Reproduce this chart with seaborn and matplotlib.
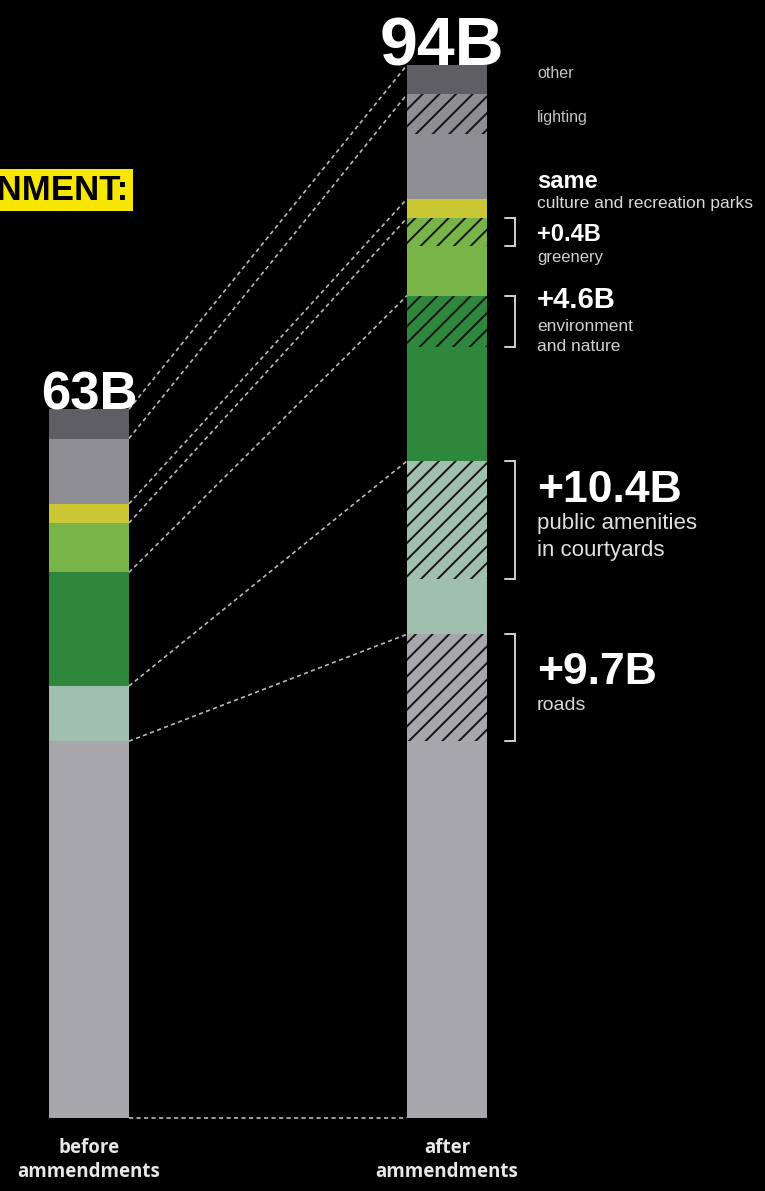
import matplotlib
matplotlib.use("Agg")
import matplotlib.pyplot as plt
from matplotlib.patches import Rectangle
import seaborn as sns
import pandas as pd
import numpy as np

# budget per category, billions, bottom -> top of each bar
categories = ["roads", "public amenities", "environment", "greenery",
              "culture", "lighting", "other"]
before_values = [33.5, 4.9, 10.1, 4.4, 1.7, 5.8, 2.6]
increase_values = [9.5, 10.5, 4.6, 2.5, 0.0, 3.5, 0.0]
colors = ["#a6a6ab", "#a1bfaf", "#2e873d", "#78b447",
          "#c9c734", "#8d8d92", "#5e5e63"]
stages = ["before\nammendments", "after\nammendments"]
totals = ["63B", "94B"]

# labels on the right side
bracket_cats = ["roads", "public amenities", "environment", "greenery"]
bracket_titles = ["+9.7B", "+10.4B", "+4.6B", "+0.4B"]

sns.set_theme(style="dark")
plt.rcParams["font.family"] = ["Liberation Sans", "DejaVu Sans"]
plt.rcParams["hatch.linewidth"] = 1.4

W, H = 765, 1191
fig = plt.figure(figsize=(W / 100, H / 100), dpi=100, facecolor="black")
ax = fig.add_axes([0, 0, 1, 1])
ax.set_facecolor("black")

# pixel layout helpers (bar centres at 89px and 447px, 11.25 px per billion)
X0, XS, Y0, YS = 89, 358, 1118, 11.25
def px(x):
    return (x - X0) / XS
def py(y):
    return (Y0 - y) / YS

bar_w = 80 / XS

# build stacked layers
rows = []
before_cum = np.cumsum(before_values)
for cat, v, c in zip(categories, before_cum, colors):
    rows.append(dict(stage=stages[0], top=v, color=c, hatch=None))
top = 0
for cat, b, inc, c in zip(categories, before_values, increase_values, colors):
    top += b
    rows.append(dict(stage=stages[1], top=top, color=c, hatch=None))
    if inc > 0:
        top += inc
        rows.append(dict(stage=stages[1], top=top, color=c, hatch="//"))
layers = pd.DataFrame(rows)

# stacked via overlapping cumulative bars, tallest first
for _, r in layers.sort_values("top", ascending=False).iterrows():
    sns.barplot(x=[r["stage"]], y=[r["top"]], order=stages, color=r["color"],
                saturation=1, width=bar_w, hatch=r["hatch"],
                edgecolor="#151515", linewidth=0, errorbar=None, ax=ax)

# dashed connectors between segment boundaries
cum_b = np.concatenate([[0], np.cumsum(before_values)])
cum_a = np.concatenate([[0], np.cumsum(np.array(before_values) + np.array(increase_values))])
xl, xr = 0 + bar_w / 2, 1 - bar_w / 2
for yb, ya in zip(cum_b, cum_a):
    ax.plot([xl, xr], [yb, ya], color="#b8b8b8", lw=1.2,
            linestyle=(0, (2.5, 2)), zorder=1)

# brackets next to the increases
for cat in bracket_cats:
    i = categories.index(cat)
    y0 = cum_a[i] + before_values[i]
    y1 = cum_a[i + 1]
    ax.plot([px(505), px(515), px(515), px(505)], [y1, y1, y0, y0],
            color="#d0d0d0", lw=1.4, solid_joinstyle="miter")

# totals
ax.text(0, cum_b[-1], totals[0], ha="center", va="baseline", color="white",
        fontsize=38, fontweight="bold", zorder=5)
ax.text(px(442), cum_a[-1], totals[1], ha="center", va="baseline", color="white",
        fontsize=49, fontweight="bold", zorder=5)

# yellow heading, cut by left edge (as in the source)
ax.add_patch(Rectangle((px(-20), py(211)), px(133) - px(-20), py(169) - py(211),
                       facecolor="#f7e600", edgecolor="none", zorder=4))
ax.text(px(129), py(190), "ENVIRONMENT:", ha="right", va="center", color="black",
        fontsize=25, fontweight="bold", zorder=5)

# right-hand labels
lx = px(537)
small = "#c4c4c4"
ax.text(lx, py(73), "other", color=small, fontsize=11.5, va="center")
ax.text(lx, py(117), "lighting", color=small, fontsize=11.5, va="center")
ax.text(lx, py(181), "same", color="white", fontsize=17, fontweight="bold", va="center")
ax.text(lx, py(203), "culture and recreation parks", color="#d8d8d8", fontsize=12.5, va="center")

ax.text(lx, py(234), bracket_titles[3], color="white", fontsize=17, fontweight="bold", va="center")
ax.text(lx, py(257), "greenery", color="#d0d0d0", fontsize=12, va="center")

ax.text(lx, py(300), bracket_titles[2], color="white", fontsize=21, fontweight="bold", va="center")
ax.text(lx, py(326), "environment", color="#d0d0d0", fontsize=12.5, va="center")
ax.text(lx, py(346), "and nature", color="#d0d0d0", fontsize=12.5, va="center")

ax.text(lx, py(490), bracket_titles[1], color="white", fontsize=32, fontweight="bold", va="center")
ax.text(lx, py(523), "public amenities", color="#e0e0e0", fontsize=16, va="center")
ax.text(lx, py(550), "in courtyards", color="#e0e0e0", fontsize=16, va="center")

ax.text(lx, py(672), bracket_titles[0], color="white", fontsize=32, fontweight="bold", va="center")
ax.text(lx, py(705), "roads", color="#d8d8d8", fontsize=14, va="center")

# stage labels under bars
for i, s in enumerate(stages):
    ax.text(i, py(1160), s, ha="center", va="center", color="#e8e8e8",
            fontsize=13.5, fontweight="bold", linespacing=1.3,
            family=["Open Sans", "DejaVu Sans"])

ax.set_xlim(px(0), px(W))
ax.set_ylim(py(H), py(0))
ax.axis("off")

fig.savefig("out.png", dpi=100, facecolor="black")
